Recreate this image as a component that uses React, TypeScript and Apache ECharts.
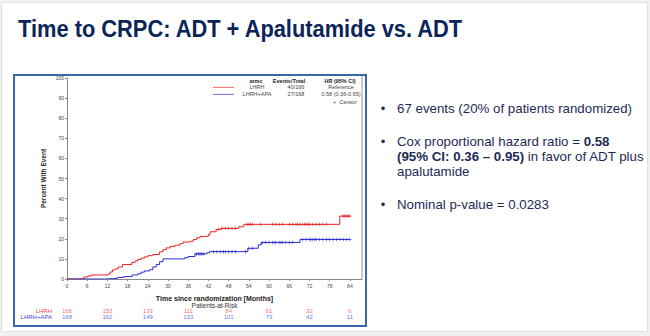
import React, { useEffect, useRef } from "react";
import * as echarts from "echarts";

// ---- data ----
const xTicks = [0, 6, 12, 18, 24, 30, 36, 42, 48, 54, 60, 66, 72, 78, 84];

const redTimes = [0, 5, 6.2, 7.3, 12.2, 12.8, 13.5, 14.2, 15.2, 16.5, 19.2, 20.2, 21, 22, 23, 24, 25.5, 27.5, 28.5, 29.5, 30.6, 32, 33.5, 34.5, 36.5, 37.5, 38.5, 39.5, 42, 42.5, 44.3, 45.8, 51, 52.5, 81, 84];
const redPct = [0, 1, 1.5, 2, 2.5, 3.5, 4.5, 5, 6, 7.2, 8.2, 9, 9.7, 10.4, 11, 11.6, 12.2, 13.5, 14.6, 15.5, 16.2, 16.8, 17.6, 18.4, 18.8, 19.6, 20.5, 21.2, 22.2, 23.5, 24.7, 25.2, 26, 27.2, 31.3, 31.3];

const blueTimes = [0, 11.5, 15, 17, 19.3, 21, 22, 23, 24.5, 25.5, 26.5, 27.5, 28.5, 35, 36, 38, 41.5, 42.3, 53.7, 56.8, 57.7, 69.2, 84];
const bluePct = [0, 0.3, 0.8, 1.2, 2, 2.6, 3.4, 4, 4.6, 6, 7.2, 8.6, 10, 10.6, 11.2, 12.5, 13, 13.6, 15.3, 17, 18.2, 19.7, 19.7];

const redCensor = [45, 46, 47, 48, 49, 50, 53.5, 54, 54.5, 55, 57.5, 61, 62, 63, 64, 66, 67, 68, 68.5, 69, 70, 70.5, 71, 71.5, 72, 73, 74, 75, 76, 77, 82, 82.5, 83, 83.5, 84];
const blueCensor = [38.5, 39, 39.5, 40, 40.5, 43.5, 44.5, 45.5, 46.5, 47, 48, 49, 50, 53, 54, 55, 58, 59, 60, 61, 61.5, 62, 63, 63.5, 64, 65, 66, 67, 70, 71, 72, 72.5, 73, 73.5, 74, 75, 76, 77, 78, 79, 80, 81, 82, 83, 84];

const riskTimes = [0, 12, 24, 36, 48, 60, 72, 84];
const riskGroups = ["LHRH", "LHRH+APA"];
const riskLHRH = [166, 153, 133, 111, 84, 61, 32, 6];
const riskAPA = [168, 162, 149, 133, 101, 73, 42, 11];

const legendRows = [
  { arm: "LHRH", events: "40/166", hr: "Reference" },
  { arm: "LHRH+APA", events: "27/168", hr: "0.58 (0.36-0.95)" },
];

const RED = "#ea2222";
const BLUE = "#2a2ad6";
const RED_T = "#f04848";
const BLUE_T = "#4646e6";
const NAVY = "#0b2559";
const TXT = "#1f2a55";
const SANS = '"Liberation Sans", Arial, sans-serif';

function stepValue(times: number[], pct: number[], t: number) {
  let v = pct[0];
  for (let i = 0; i < times.length; i++) if (times[i] <= t) v = pct[i];
  return v;
}

const plus = "path://M4,0h2v4h4v2h-4v4h-2v-4h-4v-2h4z";

export default function App() {
  const ref = useRef<HTMLDivElement>(null);
  useEffect(() => {
    const chart = echarts.init(ref.current!, null, { renderer: "svg" });
    const bt = 103;
    const lh = 15.4;
    const riskData = [
      ...riskTimes.map((t, i) => ({ value: [t, riskGroups[0], riskLHRH[i]], label: { color: RED_T } })),
      ...riskTimes.map((t, i) => ({ value: [t, riskGroups[1], riskAPA[i]], label: { color: BLUE_T } })),
    ];
    chart.setOption({
      animation: false,
      backgroundColor: "#f1f1f1",
      textStyle: { fontFamily: SANS },
      grid: [
        { left: 67, top: 78, width: 295, height: 201 },
        { left: 67, top: 308.2, width: 295, height: 11.4 },
      ],
      xAxis: [
        {
          type: "value", gridIndex: 0, min: 0, max: 87.6, interval: 6,
          name: "Time since randomization [Months]", nameLocation: "middle", nameGap: 16,
          nameTextStyle: { fontSize: 7, fontWeight: "bold", color: "#222" },
          axisLine: { show: true, lineStyle: { color: "#8a8a8a", width: 1 } },
          axisTick: { show: true, length: 2, lineStyle: { color: "#8a8a8a" } },
          axisLabel: {
            fontSize: 5, color: "#444", margin: 4, showMaxLabel: false,
            formatter: (v: number) => (xTicks.indexOf(v) >= 0 ? String(v) : ""),
          },
          splitLine: { show: false },
        },
        { type: "value", gridIndex: 1, min: 0, max: 87.6, show: false },
      ],
      yAxis: [
        {
          type: "value", gridIndex: 0, min: 0, max: 100, interval: 10,
          name: "Percent With Event", nameLocation: "middle", nameGap: 20,
          nameTextStyle: { fontSize: 6.5, fontWeight: "bold", color: "#222" },
          axisLine: { show: true, lineStyle: { color: "#8a8a8a", width: 1 } },
          axisTick: { show: true, length: 2, lineStyle: { color: "#8a8a8a" } },
          axisLabel: { fontSize: 5, color: "#444", margin: 3 },
          splitLine: { show: false },
        },
        {
          type: "category", gridIndex: 1, data: riskGroups, inverse: true,
          axisLine: { show: false }, axisTick: { show: false },
          axisLabel: {
            fontSize: 6, margin: 15, interval: 0,
            color: (v: string) => (v === riskGroups[0] ? RED_T : BLUE_T),
          },
        },
      ],
      series: [
        {
          type: "line", step: "end", showSymbol: false, xAxisIndex: 0, yAxisIndex: 0,
          data: redTimes.map((t, i) => [t, redPct[i]]),
          lineStyle: { color: RED, width: 1 }, itemStyle: { color: RED }, z: 3,
        },
        {
          type: "line", step: "end", showSymbol: false, xAxisIndex: 0, yAxisIndex: 0,
          data: blueTimes.map((t, i) => [t, bluePct[i]]),
          lineStyle: { color: BLUE, width: 1 }, itemStyle: { color: BLUE }, z: 3,
        },
        {
          type: "scatter", symbol: plus, symbolSize: 3.5, xAxisIndex: 0, yAxisIndex: 0,
          data: redCensor.map((t) => [t, stepValue(redTimes, redPct, t)]),
          itemStyle: { color: RED }, z: 4,
        },
        {
          type: "scatter", symbol: plus, symbolSize: 3.5, xAxisIndex: 0, yAxisIndex: 0,
          data: blueCensor.map((t) => [t, stepValue(blueTimes, bluePct, t)]),
          itemStyle: { color: BLUE }, z: 4,
        },
        {
          type: "scatter", xAxisIndex: 1, yAxisIndex: 1, symbolSize: 1,
          itemStyle: { color: "transparent" },
          data: riskData,
          label: {
            show: true, position: "inside", fontSize: 6,
            formatter: (p: any) => String(p.value[2]),
          },
        },
      ],
      graphic: [
        {
          type: "rect", shape: { x: 1.5, y: 2.5, width: 646, height: 329 }, z: -10,
          style: { fill: "#ffffff", stroke: "#e2e2e2", lineWidth: 1 }, silent: true,
        },
        {
          type: "rect", shape: { x: 14, y: 75, width: 352, height: 251 }, z: -5,
          style: { fill: "#ffffff", stroke: "#3867aa", lineWidth: 2 }, silent: true,
        },
        {
          type: "line", shape: { x1: 362, y1: 76, x2: 362, y2: 279 },
          style: { stroke: "#9a9a9a", lineWidth: 1 }, silent: true,
        },
        {
          type: "text", x: 18, y: 29, scaleX: 0.91,
          style: {
            text: "Time to CRPC: ADT + Apalutamide vs. ADT",
            font: `bold 24px ${SANS}`,
            fill: NAVY, verticalAlign: "middle", align: "left",
          },
        },
        // legend table
        ...[
          { t: "armc", x: 256 },
          { t: "Events/Total", x: 289 },
          { t: "HR (95% CI)", x: 340 },
        ].map((h) => ({
          type: "text", x: h.x, y: 80.8,
          style: { text: h.t, font: `bold 5.5px ${SANS}`, fill: "#222", align: "center", verticalAlign: "middle" },
        })),
        ...legendRows.flatMap((r, i) => {
          const y = 87.4 + i * 7;
          return [
            { type: "line", shape: { x1: 213, y1: y, x2: 234, y2: y }, style: { stroke: i === 0 ? RED_T : BLUE_T, lineWidth: 0.8 } },
            { type: "text", x: 257, y, style: { text: r.arm, font: `5.5px ${SANS}`, fill: "#444", align: "center", verticalAlign: "middle" } },
            { type: "text", x: 296, y, style: { text: r.events, font: `5.5px ${SANS}`, fill: "#444", align: "center", verticalAlign: "middle" } },
            { type: "text", x: 341, y, style: { text: r.hr, font: `5.5px ${SANS}`, fill: "#444", align: "center", verticalAlign: "middle" } },
          ];
        }),
        {
          type: "text", x: 357, y: 101.6,
          style: { text: "+  Censor", font: `5.5px ${SANS}`, fill: "#444", align: "right", verticalAlign: "middle" },
        },
        {
          type: "text", x: 214.5, y: 305,
          style: { text: "Patients-at-Risk", font: `6.5px ${SANS}`, fill: "#333", align: "center", verticalAlign: "middle" },
        },
        // bullets
        ...[bt + 5, bt + 38, bt + 101].map((y) => ({
          type: "text", x: 383, y,
          style: { text: "•", font: `13px ${SANS}`, fill: TXT, align: "center", verticalAlign: "middle" },
        })),
        {
          type: "text", x: 397, y: bt + 5,
          style: { text: "67 events (20% of patients randomized)", font: `13.3px ${SANS}`, fill: TXT, verticalAlign: "middle" },
        },
        {
          type: "text", x: 397, y: bt + 38,
          style: {
            text: "Cox proportional hazard ratio = {b|0.58}",
            font: `13.3px ${SANS}`, fill: TXT, verticalAlign: "middle",
            rich: { b: { fontWeight: "bold", fontSize: 13.3, fontFamily: SANS, fill: TXT } },
          },
        },
        {
          type: "text", x: 397, y: bt + 38 + lh,
          style: {
            text: "{b|(95% CI: 0.36 – 0.95)} in favor of ADT plus",
            font: `13.3px ${SANS}`, fill: TXT, verticalAlign: "middle",
            rich: { b: { fontWeight: "bold", fontSize: 13.3, fontFamily: SANS, fill: TXT } },
          },
        },
        {
          type: "text", x: 397, y: bt + 38 + lh * 2,
          style: { text: "apalutamide", font: `13.3px ${SANS}`, fill: TXT, verticalAlign: "middle" },
        },
        {
          type: "text", x: 397, y: bt + 101,
          style: { text: "Nominal p-value = 0.0283", font: `13.3px ${SANS}`, fill: TXT, verticalAlign: "middle" },
        },
      ],
    });
    return () => chart.dispose();
  }, []);
  return (
    <div
      ref={ref}
      style={{ position: "fixed", left: 0, top: 0, width: 650, height: 336 }}
    />
  );
}
